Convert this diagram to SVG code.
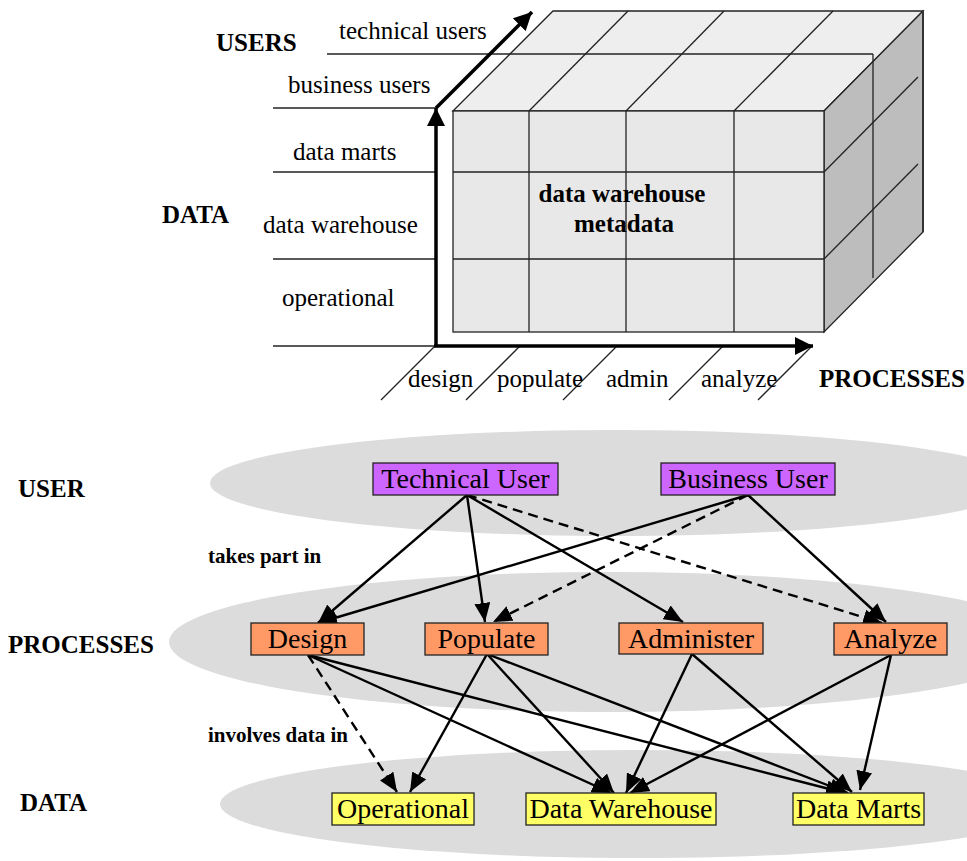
<svg xmlns="http://www.w3.org/2000/svg" width="967" height="861" viewBox="0 0 967 861">
<style>
.t{font-family:"Liberation Serif","Times New Roman",serif;font-size:25px;fill:#000}
.b{font-family:"Liberation Serif","Times New Roman",serif;font-size:25px;font-weight:bold;fill:#000}
.s{font-family:"Liberation Serif","Times New Roman",serif;font-size:21px;font-weight:bold;fill:#000}
.n{font-family:"Liberation Serif","Times New Roman",serif;font-size:28px;fill:#000;text-anchor:middle}
.g{stroke:#222;stroke-width:1.3;fill:none}
.ax{stroke:#000;stroke-width:3.5;fill:none}
.c{stroke:#000;stroke-width:2.4;fill:none}
.d{stroke-dasharray:10,6}
.lay{fill:#dcdcdc}
.bx{stroke:#222;stroke-width:1.3}
.pu{fill:#cc66ff}.or{fill:#ff9966}.ye{fill:#ffff66}
</style>
<defs>
<marker id="ah" markerUnits="userSpaceOnUse" markerWidth="20" markerHeight="16" refX="19" refY="8" orient="auto">
<path d="M0,0 L19,8 L0,16 z" fill="#000"/>
</marker>
<marker id="axh" markerUnits="userSpaceOnUse" markerWidth="19" markerHeight="18" refX="18" refY="9" orient="auto">
<path d="M0,0 L18,9 L0,18 z" fill="#000"/>
</marker>
</defs>

<g id="cube">
<polygon points="453,111 553,11 923,11 824,111" fill="#eeeeee" stroke="#222" stroke-width="1.3"/>
<polygon points="824,111 923,11 923,232 824,332" fill="#bdbdbd" stroke="#222" stroke-width="1.3"/>
<line x1="923" y1="11" x2="923" y2="232" stroke="#333" stroke-width="2"/>
<rect x="453" y="111" width="371" height="221" fill="#e8e8e8" stroke="#222" stroke-width="1.3"/>
<line class="g" x1="529" y1="111" x2="628" y2="11"/>
<line class="g" x1="626" y1="111" x2="724" y2="11"/>
<line class="g" x1="734" y1="111" x2="833" y2="11"/>
<line class="g" x1="327" y1="54" x2="873" y2="54"/>
<line class="g" x1="873" y1="54" x2="873" y2="278"/>
<line class="g" x1="824" y1="172" x2="918" y2="77"/>
<line class="g" x1="824" y1="259" x2="918" y2="164"/>
<line class="g" x1="529" y1="111" x2="529" y2="332"/>
<line class="g" x1="626" y1="111" x2="626" y2="332"/>
<line class="g" x1="734" y1="111" x2="734" y2="332"/>
<line class="g" x1="453" y1="172" x2="824" y2="172"/>
<line class="g" x1="453" y1="259" x2="824" y2="259"/>
<text class="b" x="622" y="202" text-anchor="middle">data warehouse</text>
<text class="b" x="624" y="232" text-anchor="middle">metadata</text>
</g>

<g id="axes">
<line class="g" x1="273" y1="108" x2="436" y2="108"/>
<line class="g" x1="273" y1="172" x2="436" y2="172"/>
<line class="g" x1="273" y1="259" x2="436" y2="259"/>
<line class="g" x1="273" y1="346" x2="436" y2="346"/>
<line class="g" x1="435" y1="346" x2="381" y2="400"/>
<line class="g" x1="520" y1="346" x2="466" y2="400"/>
<line class="g" x1="617" y1="346" x2="563" y2="400"/>
<line class="g" x1="723" y1="346" x2="669" y2="400"/>
<line class="g" x1="812" y1="346" x2="758" y2="400"/>
<line class="ax" x1="436" y1="347" x2="436" y2="108" marker-end="url(#axh)"/>
<line class="ax" x1="436" y1="108" x2="532" y2="12" marker-end="url(#axh)"/>
<line class="ax" x1="434" y1="346" x2="813" y2="346" marker-end="url(#axh)"/>
</g>

<g id="cube-labels">
<text class="b" x="216" y="51">USERS</text>
<text class="t" x="339" y="39">technical users</text>
<text class="t" x="288" y="93">business users</text>
<text class="t" x="293" y="160">data marts</text>
<text class="b" x="162" y="223">DATA</text>
<text class="t" x="263" y="233">data warehouse</text>
<text class="t" x="282" y="306">operational</text>
<text class="t" x="408" y="387">design</text>
<text class="t" x="497" y="387">populate</text>
<text class="t" x="606" y="387">admin</text>
<text class="t" x="701" y="387">analyze</text>
<text class="b" x="819" y="387">PROCESSES</text>
</g>

<g id="layers">
<ellipse id="layer-user" class="lay" cx="615" cy="483" rx="405" ry="53"/>
<ellipse id="layer-processes" class="lay" cx="609" cy="642" rx="440" ry="70"/>
<ellipse id="layer-data" class="lay" cx="638" cy="804" rx="418" ry="54"/>
<text class="b" x="18" y="497">USER</text>
<text class="b" x="8" y="653">PROCESSES</text>
<text class="b" x="20" y="811">DATA</text>
<text class="s" x="208" y="563">takes part in</text>
<text class="s" x="208" y="742">involves data in</text>
</g>

<g id="connectors">
<line class="c" x1="467" y1="495" x2="318" y2="623" marker-end="url(#ah)"/>
<line class="c" x1="467" y1="495" x2="485" y2="622" marker-end="url(#ah)"/>
<line class="c" x1="467" y1="495" x2="683" y2="622" marker-end="url(#ah)"/>
<line class="c d" x1="467" y1="495" x2="882" y2="623" marker-end="url(#ah)"/>
<line class="c" x1="748" y1="495" x2="318" y2="623" marker-end="url(#ah)"/>
<line class="c d" x1="748" y1="495" x2="493" y2="622" marker-end="url(#ah)"/>
<line class="c" x1="748" y1="495" x2="886" y2="622" marker-end="url(#ah)"/>
<line class="c d" x1="308" y1="655" x2="397" y2="792" marker-end="url(#ah)"/>
<line class="c" x1="308" y1="655" x2="611" y2="793" marker-end="url(#ah)"/>
<line class="c" x1="308" y1="655" x2="845" y2="793" marker-end="url(#ah)"/>
<line class="c" x1="487" y1="654" x2="410" y2="792" marker-end="url(#ah)"/>
<line class="c" x1="487" y1="654" x2="614" y2="793" marker-end="url(#ah)"/>
<line class="c" x1="487" y1="654" x2="848" y2="793" marker-end="url(#ah)"/>
<line class="c" x1="692" y1="654" x2="626" y2="793" marker-end="url(#ah)"/>
<line class="c" x1="692" y1="654" x2="852" y2="792" marker-end="url(#ah)"/>
<line class="c" x1="891" y1="655" x2="630" y2="793" marker-end="url(#ah)"/>
<line class="c" x1="891" y1="655" x2="860" y2="790" marker-end="url(#ah)"/>
</g>

<g id="node-technical-user"><rect class="bx pu" x="373" y="463" width="185" height="32"/><text class="n" x="465.5" y="488">Technical User</text></g>
<g id="node-business-user"><rect class="bx pu" x="661" y="463" width="174" height="32"/><text class="n" x="748" y="488">Business User</text></g>
<g id="node-design"><rect class="bx or" x="251" y="623" width="113" height="32"/><text class="n" x="307.5" y="648">Design</text></g>
<g id="node-populate"><rect class="bx or" x="425" y="623" width="123" height="32"/><text class="n" x="486.5" y="648">Populate</text></g>
<g id="node-administer"><rect class="bx or" x="619" y="623" width="144" height="31"/><text class="n" x="691" y="648">Administer</text></g>
<g id="node-analyze"><rect class="bx or" x="834" y="623" width="113" height="32"/><text class="n" x="890.5" y="648">Analyze</text></g>
<g id="node-operational"><rect class="bx ye" x="332" y="793" width="142" height="32"/><text class="n" x="403" y="818">Operational</text></g>
<g id="node-data-warehouse"><rect class="bx ye" x="526" y="793" width="190" height="32"/><text class="n" x="621" y="818">Data Warehouse</text></g>
<g id="node-data-marts"><rect class="bx ye" x="793" y="793" width="131" height="32"/><text class="n" x="858.5" y="818">Data Marts</text></g>
</svg>
